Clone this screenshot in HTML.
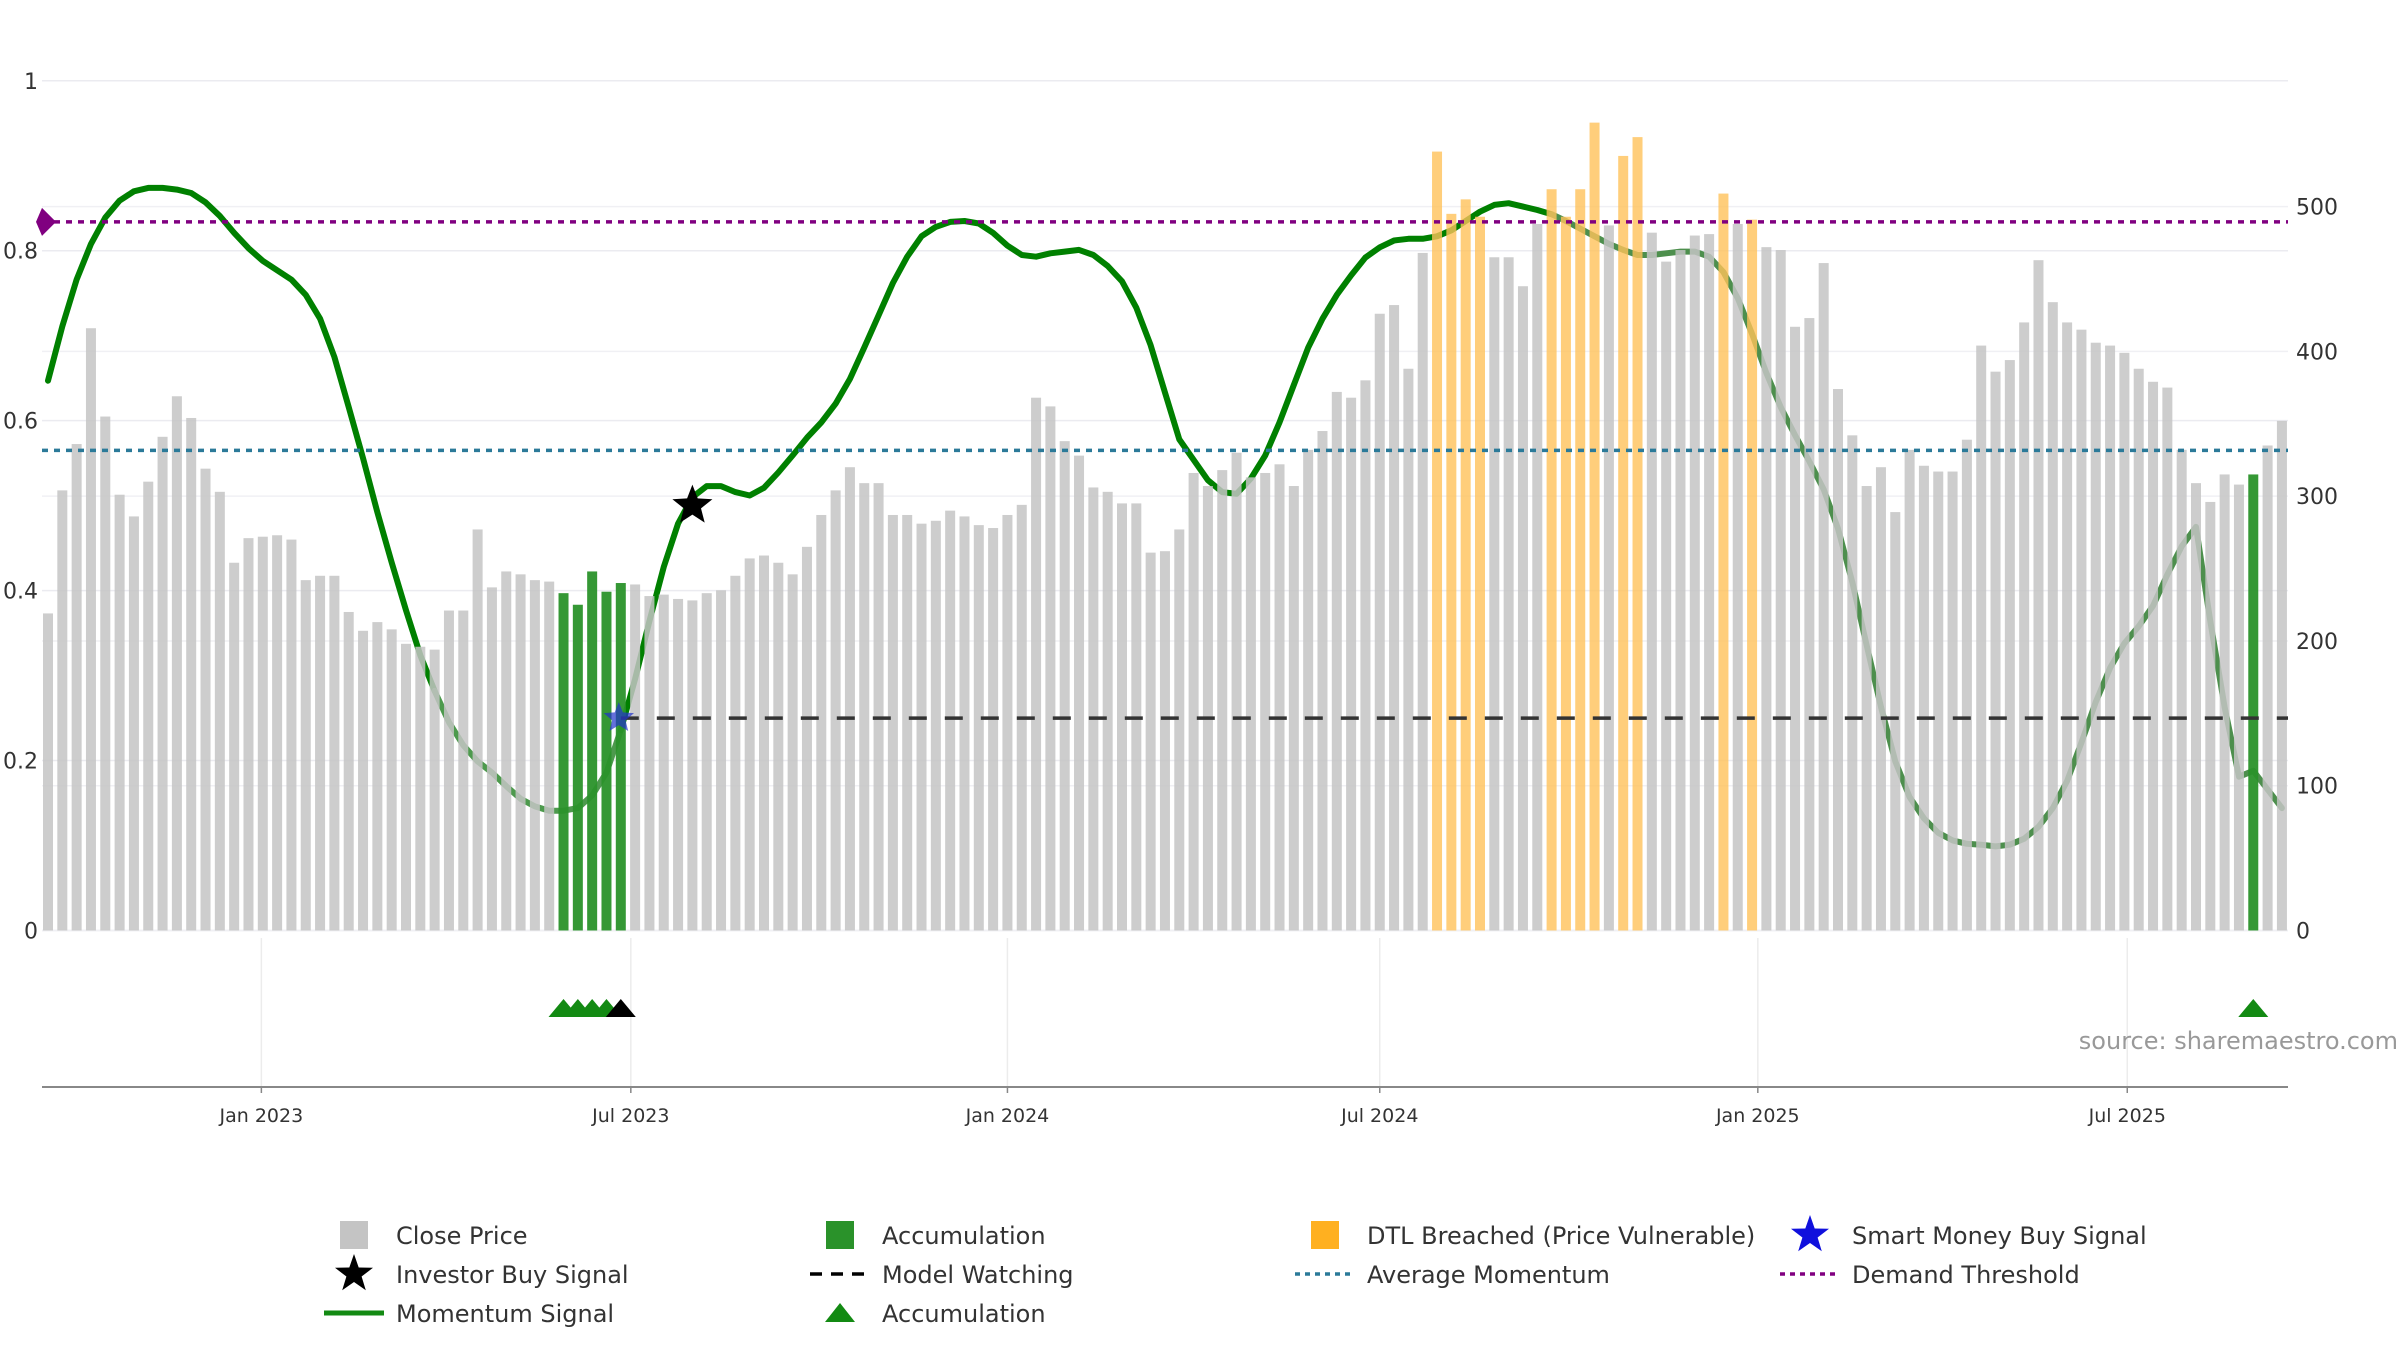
<!DOCTYPE html>
<html><head><meta charset="utf-8">
<style>
html,body{margin:0;padding:0;background:#fff;}
svg{display:block;font-family:"DejaVu Sans","Liberation Sans",sans-serif;}
</style></head>
<body>
<svg id="chart" width="2400" height="1350" viewBox="0 0 2400 1350" xmlns="http://www.w3.org/2000/svg"></svg>
<script>
const closePrices=[219,304,336,416,355,301,286,310,341,369,354,319,303,254,271,272,273,270,242,245,245,220,207,213,208,198,196,194,221,221,277,237,248,246,242,241,233,225,248,234,240,239,231,232,229,228,233,235,245,257,259,254,246,265,287,304,320,309,309,287,287,281,283,290,286,280,278,287,294,368,362,338,328,306,303,295,295,261,262,277,316,307,318,330,313,316,322,307,332,345,372,368,380,426,432,388,468,538,495,505,493,465,465,445,488,512,493,512,558,487,535,548,482,462,470,480,481,509,488,491,472,470,417,423,461,374,342,307,320,289,332,321,317,317,339,404,386,394,420,463,434,420,415,406,404,399,388,379,375,332,309,296,315,308,315,335,352];
const momentum=[0.647,0.711,0.766,0.808,0.839,0.859,0.870,0.874,0.874,0.872,0.868,0.857,0.841,0.821,0.803,0.788,0.777,0.766,0.748,0.720,0.675,0.616,0.556,0.492,0.433,0.377,0.324,0.282,0.245,0.218,0.199,0.186,0.170,0.155,0.146,0.141,0.141,0.144,0.159,0.186,0.236,0.296,0.364,0.428,0.479,0.510,0.523,0.523,0.516,0.512,0.521,0.539,0.559,0.580,0.598,0.620,0.649,0.686,0.724,0.762,0.793,0.817,0.828,0.834,0.835,0.832,0.821,0.806,0.795,0.793,0.797,0.799,0.801,0.795,0.782,0.764,0.733,0.689,0.633,0.578,0.554,0.530,0.516,0.514,0.532,0.559,0.598,0.642,0.686,0.720,0.748,0.771,0.792,0.804,0.812,0.814,0.814,0.817,0.824,0.835,0.846,0.854,0.856,0.852,0.848,0.843,0.835,0.826,0.817,0.808,0.801,0.795,0.795,0.797,0.799,0.799,0.793,0.775,0.744,0.702,0.656,0.616,0.583,0.552,0.519,0.473,0.410,0.336,0.263,0.199,0.157,0.132,0.115,0.106,0.102,0.101,0.099,0.101,0.108,0.122,0.144,0.176,0.221,0.269,0.309,0.338,0.358,0.382,0.419,0.452,0.475,0.364,0.263,0.181,0.188,0.166,0.144];
const accumulationIdx=[36,37,38,39,40,154];
const dtlIdx=[97,98,99,100,105,106,107,108,110,111,117,119];
const accTriangleIdx=[36,37,38,39,154];
const investorTriangleIdx=[40];
const smartMoney={idx:40,value:0.25};
const investorBuy={idx:45,value:0.50};
const modelWatching={start:40,value:0.25};
const demandThreshold=0.834;
const avgMomentum=0.565;
const leftTicks=[0,0.2,0.4,0.6,0.8,1];
const leftTickLabels=["0","0.2","0.4","0.6","0.8","1"];
const rightTicks=[0,100,200,300,400,500];
const dateTickIdx=[14.9,40.7,67,93,119.4,145.2];
const dateTickLabels=["Jan 2023","Jul 2023","Jan 2024","Jul 2024","Jan 2025","Jul 2025"];

const NS="http://www.w3.org/2000/svg";
const svg=document.getElementById('chart');
function el(tag,attrs,parent){const e=document.createElementNS(NS,tag);for(const k in attrs)e.setAttribute(k,attrs[k]);(parent||svg).appendChild(e);return e;}
const X0=48,DX=14.32,Y0=930.5,YL=849.7,YR=1.4478,PL=42,PR=2288;
const xI=i=>X0+i*DX;
const yL=v=>Y0-v*YL;
const yR=p=>Y0-p*YR;
function starPts(cx,cy,R,r){let p=[];for(let k=0;k<10;k++){const a=-Math.PI/2+k*Math.PI/5;const rr=k%2?r:R;p.push((cx+rr*Math.cos(a)).toFixed(1)+','+(cy+rr*Math.sin(a)).toFixed(1));}return p.join(' ');}

// gridlines
leftTicks.forEach((t,k)=>{
  const g=el('line',{x1:PL,x2:PR,y1:yL(t),y2:yL(t),stroke:'#ebebf0','stroke-width':1.5});
  
  
  const tx=el('text',{x:38,y:yL(t)+8,'font-size':22,fill:'#333','text-anchor':'end'});
  tx.textContent=leftTickLabels[k];
  
  
});
rightTicks.forEach(t=>{
  const g=el('line',{x1:PL,x2:PR,y1:yR(t),y2:yR(t),stroke:'#f0f0f4','stroke-width':1.5});
  
  
  const tx=el('text',{x:2296,y:yR(t)+8,'font-size':22,fill:'#333'});
  tx.textContent=String(t);
  
  
});
// date ticks
dateTickIdx.forEach((d,k)=>{
  const x=xI(d);
  const g=el('line',{x1:x,x2:x,y1:938,y2:1087,stroke:'#ececec','stroke-width':1.5});
  
  
  const tk=el('line',{x1:x,x2:x,y1:1087,y2:1093,stroke:'#888','stroke-width':1.5});
  
  
  const tx=el('text',{x:x,y:1122,'font-size':19,fill:'#333','text-anchor':'middle'});
  tx.textContent=dateTickLabels[k];
  
  
});
const ax=el('line',{x1:PL,x2:PR,y1:1087,y2:1087,stroke:'#888','stroke-width':2});



// momentum line (under bars)
function seg(a,b,color,name){
  let d='';for(let i=a;i<=b;i++)d+=(i===a?'M':'L')+xI(i).toFixed(1)+','+yL(momentum[i]).toFixed(1);
  const p=el('path',{d:d,fill:'none',stroke:color,'stroke-width':6,'stroke-linejoin':'round','stroke-linecap':'round'});
  
  
}
seg(0,27,'#008000','momentum-line');
seg(27,40,'#4d9a4d','momentum-line-faded');
seg(40,105,'#008000','momentum-line');
seg(105,momentum.length-1,'#4d8f4d','momentum-line-faded');

// bars
closePrices.forEach((p,i)=>{
  let fill='#c4c4c4',op=0.85,name='close-price-bar';
  if(accumulationIdx.includes(i)){fill='#2a922a';op=0.95;name='accumulation-bar';}
  else if(dtlIdx.includes(i)){fill='#ffc25a';op=0.8;name='dtl-breached-bar';}
  const b=el('rect',{x:xI(i)-5,y:yR(p),width:10,height:Y0-yR(p),fill:fill,'fill-opacity':op});
  
  
});

// horizontal reference lines
const dl=el('line',{x1:PL,x2:PR,y1:yL(demandThreshold),y2:yL(demandThreshold),stroke:'#800080','stroke-width':3.5,'stroke-dasharray':'6 6'});


const dm=el('polygon',{points:`${PL},${yL(demandThreshold)-14} ${PL+14},${yL(demandThreshold)} ${PL},${yL(demandThreshold)+14} ${PL-6},${yL(demandThreshold)}`,fill:'#800080'});


const al=el('line',{x1:PL,x2:PR,y1:yL(avgMomentum),y2:yL(avgMomentum),stroke:'#2b7a99','stroke-width':3.5,'stroke-dasharray':'6 6'});


const ml=el('line',{x1:xI(modelWatching.start),x2:PR,y1:yL(modelWatching.value),y2:yL(modelWatching.value),stroke:'#333','stroke-width':3.5,'stroke-dasharray':'18 18'});



// signals
const sm=el('polygon',{points:starPts(xI(smartMoney.idx)-2,yL(smartMoney.value),16,7),fill:'#2233cc','fill-opacity':0.7});


const ib=el('polygon',{points:starPts(xI(investorBuy.idx),yL(investorBuy.value),21,9),fill:'#000'});



// lower panel triangles
function tri(i,color,name){
  const x=xI(i),y=1008;
  const t=el('polygon',{points:`${x-15},${y+9} ${x+15},${y+9} ${x},${y-9}`,fill:color});
  
  
}
accTriangleIdx.forEach(i=>tri(i,'#138a13','accumulation-triangle'));
investorTriangleIdx.forEach(i=>tri(i,'#000','investor-triangle'));

const src=el('text',{x:2398,y:1049,'font-size':24,fill:'#999','text-anchor':'end'});
src.textContent='source: sharemaestro.com';



// legend
const rows=[1235,1274,1313];
const cols=[354,840,1325,1810];
const legend=[
 [0,0,'sq','#c4c4c4','Close Price'],[1,0,'sq','#2a922a','Accumulation'],[2,0,'sq','#ffb020','DTL Breached (Price Vulnerable)'],[3,0,'star','#1010dd','Smart Money Buy Signal'],
 [0,1,'star','#000','Investor Buy Signal'],[1,1,'dash','#000','Model Watching'],[2,1,'dot','#2b7a99','Average Momentum'],[3,1,'dot','#800080','Demand Threshold'],
 [0,2,'line','#138a13','Momentum Signal'],[1,2,'tri','#138a13','Accumulation']
];
legend.forEach(([c,r,type,color,label])=>{
  const x=cols[c],y=rows[r];
  const g=el('g',{});
  
  
  if(type==='sq')el('rect',{x:x-14,y:y-14,width:28,height:28,fill:color},g);
  else if(type==='star')el('polygon',{points:starPts(x,y,20,8),fill:color},g);
  else if(type==='dash')el('line',{x1:x-30,x2:x+30,y1:y,y2:y,stroke:color,'stroke-width':3.5,'stroke-dasharray':'12 9'},g);
  else if(type==='dot')el('line',{x1:x-30,x2:x+30,y1:y,y2:y,stroke:color,'stroke-width':3.5,'stroke-dasharray':'5 5'},g);
  else if(type==='line')el('line',{x1:x-30,x2:x+30,y1:y,y2:y,stroke:color,'stroke-width':5},g);
  else if(type==='tri')el('polygon',{points:`${x-15},${y+9} ${x+15},${y+9} ${x},${y-10}`,fill:color},g);
  const t=el('text',{x:x+42,y:y+9,'font-size':24,fill:'#333'},g);
  t.textContent=label;
});
</script>
</body></html>
